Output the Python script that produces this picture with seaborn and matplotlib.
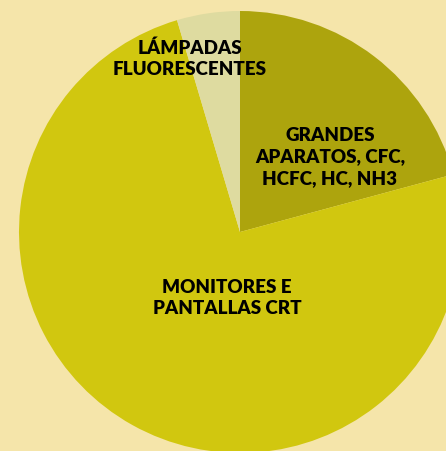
import matplotlib
matplotlib.use("Agg")
import matplotlib.pyplot as plt
import seaborn as sns

# data (share of each category, %)
categories = ["GRANDES\nAPARATOS, CFC,\nHCFC, HC, NH3",
              "MONITORES E\nPANTALLAS CRT",
              "LÁMPADAS\nFLUORESCENTES"]
shares = [20.8, 74.6, 4.6]
slice_colors = ["#ADA40D", "#D1C70F", "#DEDBA0"]
# label centres, in units of the pie radius
label_pos = [(0.407, 0.339), (-0.059, -0.299), (-0.226, 0.783)]

sns.set_style("white")
plt.rcParams["font.family"] = ["Lato", "DejaVu Sans"]

bg = "#F5E5AA"
fig = plt.figure(figsize=(4.46, 4.51), dpi=100, facecolor=bg)
ax = fig.add_axes([0, 0, 1, 1])
ax.set_facecolor(bg)

wedges, texts = ax.pie(shares, labels=categories, colors=slice_colors,
                       startangle=90, counterclock=False, radius=1.0,
                       labeldistance=0.5,
                       wedgeprops=dict(linewidth=0),
                       textprops=dict(fontsize=13.5, fontweight="heavy",
                                      color="black", ha="center",
                                      va="center", linespacing=1.3))
for t, (x, y) in zip(texts, label_pos):
    t.set_position((x, y))
    t.set_horizontalalignment("center")

ax.set_xlim(-240 / 221, 206 / 221)
ax.set_ylim(-219 / 221, 232 / 221)
ax.set_aspect("auto")
ax.axis("off")

fig.savefig("out.png", dpi=100, facecolor=bg)
